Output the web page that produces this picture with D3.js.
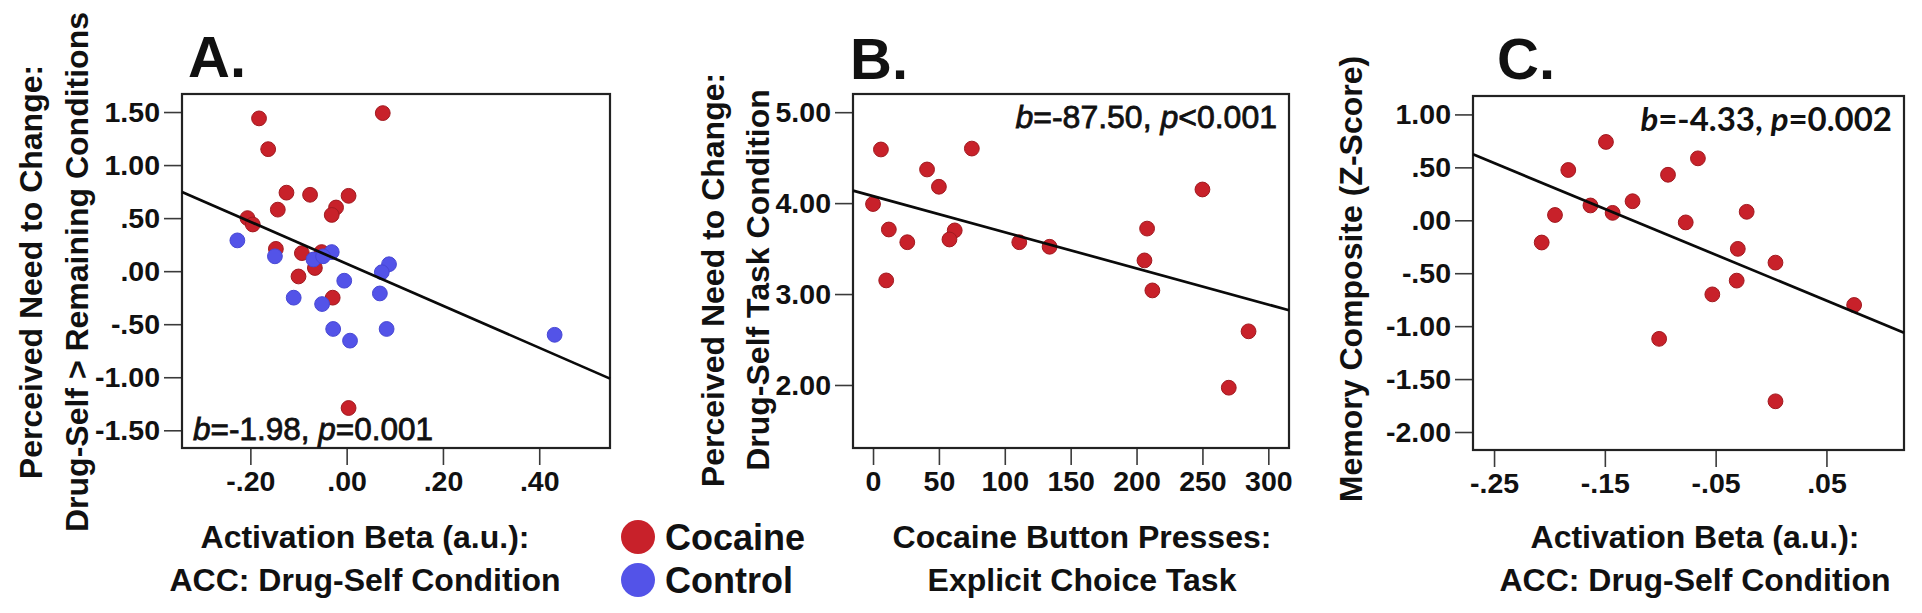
<!DOCTYPE html>
<html>
<head>
<meta charset="utf-8">
<script src="https://cdn.jsdelivr.net/npm/d3@7/dist/d3.min.js"></script>
<style>
  html, body { margin: 0; padding: 0; background: #ffffff; }
  svg { display: block; }
  text { font-family: "Liberation Sans", Arial, Helvetica, sans-serif; fill: #111; }
</style>
</head>
<body>
<svg id="chart" width="1922" height="613"></svg>
<script>
// ---------------- DATA ----------------
// Panel A: ACC activation beta vs perceived need to change (difference score)
const aCocaineX = [-0.182, 0.075, -0.163, -0.125, -0.076, 0.004, -0.143, -0.022, -0.031, -0.206, -0.195, -0.147, -0.093, -0.052, -0.066, -0.100, -0.029, 0.004];
const aCocaineY = [1.44, 1.49, 1.15, 0.74, 0.72, 0.71, 0.58, 0.60, 0.53, 0.50, 0.44, 0.21, 0.17, 0.18, 0.03, -0.05, -0.25, -1.29];
const aControlX = [-0.227, -0.149, -0.031, -0.069, -0.049, -0.005, 0.088, 0.073, 0.069, -0.110, -0.051, -0.028, 0.083, 0.007, 0.432];
const aControlY = [0.29, 0.14, 0.18, 0.11, 0.14, -0.09, 0.065, -0.01, -0.21, -0.25, -0.31, -0.545, -0.545, -0.655, -0.60];

// Panel B: cocaine button presses vs perceived need to change (drug-self task)
const bPresses = [6, 75, 41, 50, 250, 0, 12, 62, 58, 26, 111, 134, 208, 206, 212, 10, 285, 270];
const bNeed    = [4.59, 4.60, 4.37, 4.18, 4.15, 3.99, 3.71, 3.70, 3.60, 3.57, 3.57, 3.52, 3.72, 3.37, 3.04, 3.15, 2.59, 1.97];

// Panel C: ACC activation beta vs memory composite
const cBeta   = [-0.149, -0.066, -0.183, -0.093, -0.125, -0.163, -0.143, -0.195, -0.022, -0.077, -0.207, -0.030, 0.004, -0.031, -0.053, 0.075, -0.101, 0.004];
const cMemory = [0.74, 0.585, 0.475, 0.43, 0.18, 0.14, 0.07, 0.05, 0.08, -0.02, -0.21, -0.27, -0.40, -0.57, -0.70, -0.80, -1.12, -1.71];

// Fit lines (intercept, slope) for panels A, B, C
const fitIntercepts = [0.07, 4.077, -0.542];
const fitSlopes     = [-1.98, -0.003975, -4.33];

// Axis domains
const aXDomain = [-0.342, 0.547], aYDomain = [-1.667, 1.67];
const bXDomain = [-15.2, 315.7],  bYDomain = [1.307, 5.20];
const cXDomain = [-0.269, 0.120], cYDomain = [-2.17, 1.174];

// Ticks and tick labels
const aXTicks = [-0.2, 0, 0.2, 0.4];
const aXLabels = ["-.20", ".00", ".20", ".40"];
const aYTicks = [-1.5, -1, -0.5, 0, 0.5, 1, 1.5];
const aYLabels = ["-1.50", "-1.00", "-.50", ".00", ".50", "1.00", "1.50"];
const bXTicks = [0, 50, 100, 150, 200, 250, 300];
const bXLabels = ["0", "50", "100", "150", "200", "250", "300"];
const bYTicks = [2, 3, 4, 5];
const bYLabels = ["2.00", "3.00", "4.00", "5.00"];
const cXTicks = [-0.25, -0.15, -0.05, 0.05];
const cXLabels = ["-.25", "-.15", "-.05", ".05"];
const cYTicks = [-2, -1.5, -1, -0.5, 0, 0.5, 1];
const cYLabels = ["-2.00", "-1.50", "-1.00", "-.50", ".00", ".50", "1.00"];

// Text
const panelLetters = ["A.", "B.", "C."];
const statsB = ["-1.98", "-87.50", "-4.33"];
const statsP = ["=0.001", "<0.001", "=0.002"];
const xTitles = [["Activation Beta (a.u.):", "ACC: Drug-Self Condition"],
                 ["Cocaine Button Presses:", "Explicit Choice Task"],
                 ["Activation Beta (a.u.):", "ACC: Drug-Self Condition"]];
const yTitles = [["Perceived Need to Change:", "Drug-Self > Remaining Conditions"],
                 ["Perceived Need to Change:", "Drug-Self Task Condition"],
                 ["Memory Composite (Z-Score)"]];
const legendGroups = ["Cocaine", "Control"];

// ---------------- STYLE ----------------
const RED = "#c8212a", RED_STROKE = "#a11a20";
const BLUE = "#5353e8", BLUE_STROKE = "#4848d4";
const groupColors = [RED, BLUE];
const svg = d3.select("#chart");

const panels = [
  { box: [182, 610, 94, 448], xd: aXDomain, yd: aYDomain, xt: aXTicks, xl: aXLabels, yt: aYTicks, yl: aYLabels,
    letter: [188, 77], stat: { x: 193, y: 440, anchor: "start", font: "Liberation Sans", weight: "normal", size: 31.5, stroke: 0.8 },
    xTitle: { x: 365, y: [548, 591] }, yTitle: { y: 272, x: [42, 88] } },
  { box: [853, 1289, 94, 448], xd: bXDomain, yd: bYDomain, xt: bXTicks, xl: bXLabels, yt: bYTicks, yl: bYLabels,
    letter: [850, 79], stat: { x: 1277, y: 128, anchor: "end", font: "Liberation Sans", weight: "normal", size: 32, stroke: 0.8 },
    xTitle: { x: 1082, y: [548, 591] }, yTitle: { y: 280, x: [724, 769] } },
  { box: [1473, 1904, 96, 450], xd: cXDomain, yd: cYDomain, xt: cXTicks, xl: cXLabels, yt: cYTicks, yl: cYLabels,
    letter: [1497, 79], stat: { x: 1892, y: 131, anchor: "end", font: "Lato", weight: "bold", size: 33, stroke: 0 },
    xTitle: { x: 1695, y: [548, 591] }, yTitle: { y: 279, x: [1362] } }
];

const series = [
  [{ xs: aCocaineX, ys: aCocaineY, g: 0 }, { xs: aControlX, ys: aControlY, g: 1 }],
  [{ xs: bPresses, ys: bNeed, g: 0 }],
  [{ xs: cBeta, ys: cMemory, g: 0 }]
];

panels.forEach((p, i) => {
  const [x0, x1, y0, y1] = p.box;
  const x = d3.scaleLinear().domain(p.xd).range([x0, x1]);
  const y = d3.scaleLinear().domain(p.yd).range([y1, y0]);
  const g = svg.append("g");

  // axes
  const xAxis = d3.axisBottom(x).tickValues(p.xt).tickFormat((d, k) => p.xl[k]).tickSize(17).tickSizeOuter(0).tickPadding(6);
  const yAxis = d3.axisLeft(y).tickValues(p.yt).tickFormat((d, k) => p.yl[k]).tickSize(18).tickSizeOuter(0).tickPadding(4);
  const gx = g.append("g").attr("transform", `translate(0,${y1})`).call(xAxis);
  const gy = g.append("g").attr("transform", `translate(${x0},0)`).call(yAxis);
  [gx, gy].forEach(a => {
    a.select(".domain").remove();
    a.selectAll(".tick line").attr("stroke", "#3a3a3a").attr("stroke-width", 1.6);
    a.selectAll(".tick text").attr("fill", "#111").style("font-family", "Liberation Sans, Arial, sans-serif")
      .style("font-size", "28.5px").style("font-weight", "bold");
  });

  // frame
  g.append("rect").attr("x", x0).attr("y", y0).attr("width", x1 - x0).attr("height", y1 - y0)
    .attr("fill", "none").attr("stroke", "#222").attr("stroke-width", 2.2);

  // points
  series[i].forEach(s => {
    g.append("g").selectAll("circle").data(s.xs.map((v, k) => [v, s.ys[k]])).join("circle")
      .attr("cx", d => x(d[0])).attr("cy", d => y(d[1])).attr("r", 7.4)
      .attr("fill", groupColors[s.g]).attr("stroke", s.g === 0 ? RED_STROKE : BLUE_STROKE).attr("stroke-width", 1);
  });

  // fit line
  const a = fitIntercepts[i], b = fitSlopes[i];
  const fx = p.xd;
  g.append("line")
    .attr("x1", x(fx[0])).attr("y1", y(a + b * fx[0]))
    .attr("x2", x(fx[1])).attr("y2", y(a + b * fx[1]))
    .attr("stroke", "#0a0a0a").attr("stroke-width", 2.7);

  // panel letter
  g.append("text").attr("x", p.letter[0]).attr("y", p.letter[1]).text(panelLetters[i])
    .style("font-size", "58px").style("font-weight", "bold");

  // stats annotation
  const st = g.append("text").attr("x", p.stat.x).attr("y", p.stat.y).attr("text-anchor", p.stat.anchor)
    .style("font-family", p.stat.font + ", Liberation Sans, Arial, sans-serif")
    .style("font-size", p.stat.size + "px").style("font-weight", p.stat.weight)
    .attr("stroke", "#111").attr("stroke-width", p.stat.stroke);
  st.append("tspan").style("font-style", "italic").text("b");
  st.append("tspan").text("=" + statsB[i] + ", ");
  st.append("tspan").style("font-style", "italic").text("p");
  st.append("tspan").text(statsP[i]);

  // x title
  xTitles[i].forEach((t, k) => {
    g.append("text").attr("x", p.xTitle.x).attr("y", p.xTitle.y[k]).attr("text-anchor", "middle")
      .style("font-size", "32px").style("font-weight", "bold").text(t);
  });
  // y title
  yTitles[i].forEach((t, k) => {
    g.append("text").attr("transform", `translate(${p.yTitle.x[k]},${p.yTitle.y}) rotate(-90)`)
      .attr("text-anchor", "middle").style("font-size", "32px").style("font-weight", "bold").text(t);
  });
});

// legend
const leg = svg.append("g");
legendGroups.forEach((name, k) => {
  leg.append("circle").attr("cx", 638).attr("cy", 537 + k * 43).attr("r", 17).attr("fill", groupColors[k]);
  leg.append("text").attr("x", 665).attr("y", 550 + k * 43).style("font-size", "36px").style("font-weight", "bold").text(name);
});
</script>
</body>
</html>
